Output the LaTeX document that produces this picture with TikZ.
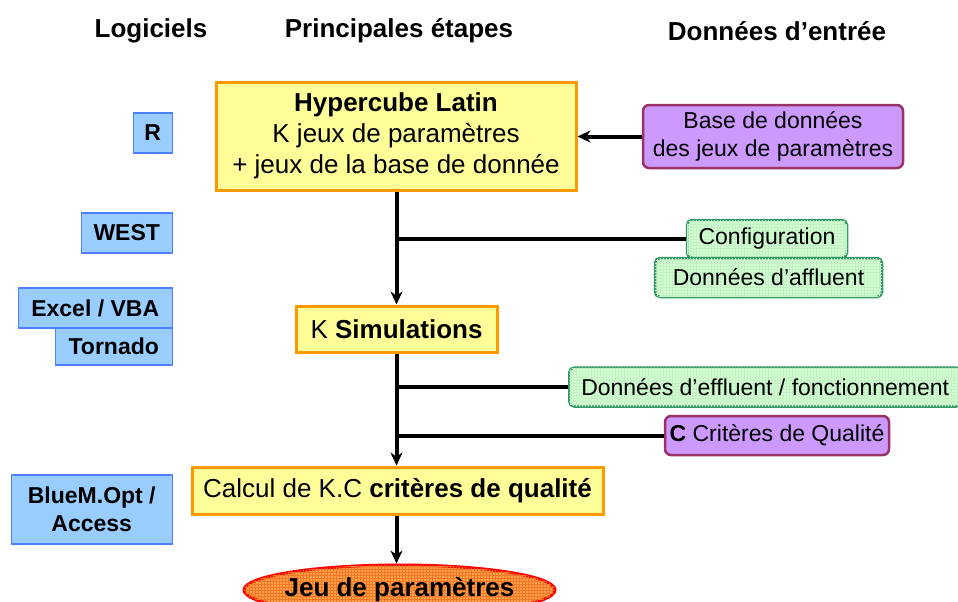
\documentclass[tikz,border=0pt]{standalone}
\usepackage{fontspec}
\setmainfont{Liberation Sans}
\usepackage{tikz}
\usetikzlibrary{arrows.meta,positioning,shapes.geometric,patterns}
\definecolor{etapefill}{RGB}{255,255,153}
\definecolor{etapeborder}{RGB}{255,153,0}
\definecolor{logfill}{RGB}{153,204,255}
\definecolor{logborder}{RGB}{77,128,255}
\definecolor{violetfill}{RGB}{204,153,255}
\definecolor{violetborder}{RGB}{153,51,102}
\definecolor{vertfill}{RGB}{210,255,210}
\definecolor{vertgrid}{RGB}{196,242,196}
\definecolor{vertborder}{RGB}{51,153,102}
\definecolor{jeufill}{RGB}{255,160,70}
\definecolor{jeugrid}{RGB}{240,120,40}

\tikzset{
  entete/.style={font=\fontsize{26}{30}\selectfont\bfseries},
  etape/.style={draw=etapeborder, fill=etapefill, line width=3pt, align=center,
    inner sep=0pt, font=\fontsize{26}{31}\selectfont},
  logiciel/.style={draw=logborder, fill=logfill, line width=1.5pt, align=center,
    inner sep=0pt, anchor=east, font=\fontsize{23}{28}\selectfont\bfseries},
  entreeviolet/.style={draw=violetborder, fill=violetfill, line width=2.5pt,
    rounded corners=6pt, align=center, inner sep=0pt, font=\fontsize{23}{28}\selectfont},
  entreevert/.style={draw=vertborder, fill=vertfill, line width=2.5pt,
    rounded corners=5pt, align=center, inner sep=0pt, font=\fontsize{23}{28}\selectfont,
    postaction={pattern=grid, pattern color=vertgrid}},
  fleche/.style={line width=4pt, -{Stealth[length=13pt,width=12pt]}},
  trait/.style={line width=4pt}
}

\begin{document}
\begin{tikzpicture}[x=1pt,y=-1pt]
  \useasboundingbox (0,0) rectangle (958,602);
  \clip (0,0) rectangle (958,602);
  % en-tetes des colonnes
  \node[entete] (hlog) at (151,31) {Logiciels};
  \node[entete] (hetap) at (399,31) {Principales étapes};
  \node[entete] (hdon) at (777,31) {Données d’entrée};

  % principales etapes
  \node[etape,minimum width=360pt,minimum height=108pt] (hyper) at (396,136)
    {\textbf{Hypercube Latin}\\K jeux de paramètres\\+ jeux de la base de donnée};
  \node[etape,minimum width=201pt,minimum height=46pt] (simu) at (396.5,329)
    {K \textbf{Simulations}};
  \node[etape,minimum width=411pt,minimum height=47pt] (calcul) at (397.5,490.5)
    {Calcul de K.C \textbf{critères de qualité}};
  \node[ellipse,draw=red,line width=3pt,fill=jeufill,
        postaction={pattern=grid,pattern color=jeugrid},
        minimum width=311pt,minimum height=50pt,inner sep=0pt,
        label={[font=\fontsize{26}{31}\selectfont\bfseries]center:Jeu de paramètres}]
        (jeu) at (399.5,590) {};

  % logiciels
  \node[logiciel,minimum width=39pt,minimum height=40pt] (r) at (173,133) {R};
  \node[logiciel,minimum width=91pt,minimum height=40pt] (west) at (173,233) {WEST};
  \node[logiciel,minimum width=154pt,minimum height=40pt] (excel) at (173,308) {Excel / VBA};
  \node[logiciel,minimum width=117pt,minimum height=37pt] (tornado) at (173,346.5) {Tornado};
  \node[logiciel,minimum width=161pt,minimum height=69pt] (bluem) at (173,509.5)
    {BlueM.Opt /\\Access};

  % donnees d'entree
  \node[entreeviolet,minimum width=260pt,minimum height=63pt] (base) at (773,136.5)
    {Base de données\\des jeux de paramètres};
  \node[entreevert,minimum width=160pt,minimum height=38pt] (config) at (767,239)
    {Configuration};
  \node[entreevert,minimum width=227pt,minimum height=39pt] (affl) at (768.5,277.5)
    {Données d’affluent};
  \node[entreevert,minimum height=39pt,inner xsep=12pt,anchor=west] (effl) at (568,387)
    {Données d’effluent / fonctionnement};
  \node[entreeviolet,minimum width=224pt,minimum height=39pt] (crit) at (777,435.5)
    {\textbf{C} Critères de Qualité};

  % connecteurs
  \draw[fleche] (base.west) -- (hyper.east |- base.west);
  \draw[fleche] (hyper.south -| simu.north) -- (simu.north);
  \draw[trait] (simu.north |- config.west) -- (config.west);
  \draw[fleche] (simu.south) -- (simu.south |- calcul.north);
  \draw[trait] (simu.south |- effl.west) -- (effl.west);
  \draw[trait] (simu.south |- crit.west) -- (crit.west);
  \draw[fleche] (calcul.south -| simu.south) -- (simu.south |- jeu.north);
\end{tikzpicture}
\end{document}
